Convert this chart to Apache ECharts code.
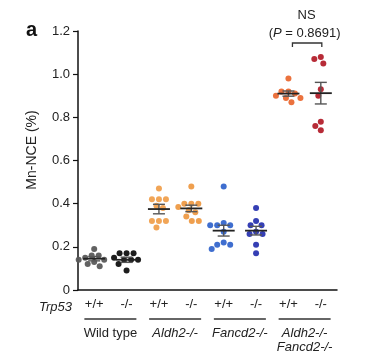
<!DOCTYPE html>
<html><head><meta charset="utf-8">
<script src="https://cdn.jsdelivr.net/npm/echarts@6/dist/echarts.min.js"></script>
<style>html,body{margin:0;padding:0;background:#fff}#c{width:385px;height:359px}</style>
</head><body><div id="c"></div>
<script>
// ---- data ----
const categories = ['+/+', '-/-', '+/+', '-/-', '+/+', '-/-', '+/+', '-/-'];
const groupLabels = ['Wild type', 'Aldh2-/-', 'Fancd2-/-', 'Aldh2-/-\nFancd2-/-'];
const yTicks = [0, 0.2, 0.4, 0.6, 0.8, 1.0, 1.2];

const wtWT   = [0.19, 0.16, 0.16, 0.15, 0.14, 0.14, 0.13, 0.12, 0.11];
const wtKO   = [0.17, 0.17, 0.17, 0.15, 0.14, 0.14, 0.14, 0.12, 0.09];
const aldWT  = [0.47, 0.42, 0.42, 0.42, 0.39, 0.38, 0.32, 0.32, 0.32, 0.29];
const aldKO  = [0.48, 0.40, 0.40, 0.40, 0.385, 0.37, 0.36, 0.34, 0.32, 0.32];
const fanWT  = [0.48, 0.31, 0.30, 0.30, 0.30, 0.27, 0.22, 0.21, 0.21, 0.19];
const fanKO  = [0.38, 0.32, 0.30, 0.30, 0.27, 0.26, 0.26, 0.21, 0.17];
const dblWT  = [0.98, 0.92, 0.92, 0.91, 0.90, 0.89, 0.89, 0.87];
const dblKO  = [1.08, 1.07, 1.05, 0.93, 0.90, 0.78, 0.76, 0.74];

const means = [0.145, 0.14, 0.375, 0.378, 0.275, 0.275, 0.91, 0.912];
const sems  = [0.01, 0.012, 0.022, 0.015, 0.025, 0.02, 0.012, 0.05];

const pText = '(P = 0.8691)';
const nsText = 'NS';

// ---- styling ----
const groups = [wtWT, wtKO, aldWT, aldKO, fanWT, fanKO, dblWT, dblKO];
const colors = ['#5a5a5a', '#111111', '#f0a04e', '#ee9a44', '#3566cc', '#2a35b0', '#ea6a34', '#b3202c'];
const FONT = '"Liberation Sans", Arial, Helvetica, sans-serif';
const TXT = '#222';

const chart = echarts.init(document.getElementById('c'), null, {renderer: 'canvas'});

const base = {
  animation: false,
  backgroundColor: '#fff',
  grid: {left: 78, right: 48, top: 31, bottom: 69},
  xAxis: {
    type: 'category', data: categories, boundaryGap: true,
    axisLine: {lineStyle: {color: '#111', width: 1.5}},
    axisTick: {alignWithLabel: true, length: 5, lineStyle: {color: '#111', width: 1.2}},
    axisLabel: {color: TXT, fontSize: 13, fontFamily: FONT, margin: 8}
  },
  yAxis: {
    type: 'value', min: 0, max: 1.2, interval: 0.2,
    axisLine: {show: true, lineStyle: {color: '#111', width: 1.5}},
    axisTick: {show: true, length: 5, lineStyle: {color: '#111', width: 1.2}},
    splitLine: {show: false},
    axisLabel: {color: TXT, fontSize: 13, fontFamily: FONT, margin: 8,
      formatter: v => (v === 0 ? '0' : v.toFixed(1))}
  },
  series: []
};
chart.setOption(base);

// beeswarm layout in pixel space
const DOT = 6;
function swarm(vals) {
  const placed = [];
  return vals.map(v => {
    const py = chart.convertToPixel({yAxisIndex: 0}, v);
    let best = 0;
    for (let k = 0; k < 40; k++) {
      const cands = k === 0 ? [0] : [-k * 0.5, k * 0.5];
      let ok = null;
      for (const c of cands) {
        if (placed.every(p => Math.hypot(p[0] - c, p[1] - py) >= DOT + 0.8)) { ok = c; break; }
      }
      if (ok !== null) { best = ok; break; }
    }
    placed.push([best, py]);
    return best;
  });
}

const series = groups.map((vals, i) => {
  const offs = swarm(vals);
  return {
    type: 'scatter', symbol: 'circle', symbolSize: DOT, z: 2,
    itemStyle: {color: colors[i], opacity: 0.95},
    data: vals.map((v, j) => ({value: [i, v], symbolOffset: [offs[j], 0]}))
  };
});

series.push({
  type: 'custom', z: 5,
  data: means.map((m, i) => [i, m, sems[i]]),
  renderItem: (params, api) => {
    const i = api.value(0), m = api.value(1), s = api.value(2);
    const c = api.coord([i, m]);
    const top = api.coord([i, m + s])[1];
    const bot = api.coord([i, m - s])[1];
    const eb = {stroke: '#555', lineWidth: 1.4};
    return {type: 'group', children: [
      {type: 'line', shape: {x1: c[0], y1: top, x2: c[0], y2: bot}, style: eb},
      {type: 'line', shape: {x1: c[0] - 6, y1: top, x2: c[0] + 6, y2: top}, style: eb},
      {type: 'line', shape: {x1: c[0] - 6, y1: bot, x2: c[0] + 6, y2: bot}, style: eb},
      {type: 'line', shape: {x1: c[0] - 11, y1: c[1], x2: c[0] + 11, y2: c[1]},
        style: {stroke: '#222', lineWidth: 1.8}}
    ]};
  }
});

// annotations positioned from the axis scale
const cx = i => chart.convertToPixel({xAxisIndex: 0}, i);
const graphics = [
  {type: 'text', left: 26, top: 20, style: {text: 'a', fontSize: 20, fontWeight: 'bold', fill: '#111', fontFamily: FONT}},
  {type: 'text', x: 32, y: 150, rotation: Math.PI / 2,
    style: {text: 'Mn-NCE (%)', fontSize: 14, fill: TXT, fontFamily: FONT, align: 'center', verticalAlign: 'middle'}},
  {type: 'text', x: 72, y: 307, style: {text: 'Trp53', fontSize: 13, fontStyle: 'italic', fill: TXT, fontFamily: FONT, align: 'right', verticalAlign: 'middle'}}
];
groupLabels.forEach((lab, g) => {
  const mid = (cx(2 * g) + cx(2 * g + 1)) / 2;
  graphics.push({type: 'line', shape: {x1: mid - 26, y1: 319, x2: mid + 26, y2: 319}, style: {stroke: '#333', lineWidth: 1.5}});
  graphics.push({type: 'text', x: mid, y: 326, style: {text: lab, fontSize: 13, lineHeight: 14,
    fontStyle: g === 0 ? 'normal' : 'italic', fill: TXT, fontFamily: FONT, align: 'center', verticalAlign: 'top'}});
});
const b1 = cx(6) + 4, b2 = cx(7) + 1, bm = (cx(6) + cx(7)) / 2 + 2;
graphics.push({type: 'polyline', shape: {points: [[b1, 47], [b1, 43], [b2, 43], [b2, 47]]}, style: {stroke: '#333', lineWidth: 1.3, fill: null}});
graphics.push({type: 'text', x: bm, y: 15, style: {text: nsText, fontSize: 13, fill: TXT, fontFamily: FONT, align: 'center', verticalAlign: 'middle'}});
graphics.push({type: 'text', x: bm - 2, y: 33, style: {
  text: '{p|(}{i|P}{p| = 0.8691)}',
  rich: {p: {fontSize: 13, fill: TXT, fontFamily: FONT}, i: {fontSize: 13, fontStyle: 'italic', fill: TXT, fontFamily: FONT}},
  align: 'center', verticalAlign: 'middle'}});

chart.setOption({series: series, graphic: graphics});
</script>
</body></html>
